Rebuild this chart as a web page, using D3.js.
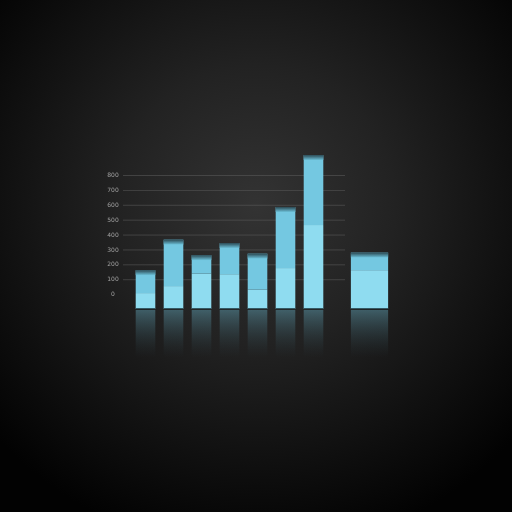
<!DOCTYPE html>
<html>
<head>
<meta charset="utf-8">
<script src="https://cdn.jsdelivr.net/npm/d3@7"></script>
<style>
  html, body { margin: 0; padding: 0; background: #000; }
  svg { display: block; }
</style>
</head>
<body>
<div id="chart"></div>
<script>
// data
const categories = ["A", "B", "C", "D", "E", "F", "G", "", "H"];
const lowerValues = [107, 154, 238, 234, 130, 275, 564, null, 261];
const upperValues = [154, 312, 124, 209, 242, 410, 470, null, 118];
const tickValues = [0, 100, 200, 300, 400, 500, 600, 700, 800];
const tickLabels = ["0", "100", "200", "300", "400", "500", "600", "700", "800"];
const wideCategory = "H";
const baseValue = -100;

const width = 512;
const height = 512;

const svg = d3.select("#chart")
  .append("svg")
  .attr("width", width)
  .attr("height", height);

const defs = svg.append("defs");

// background glow
const bg = defs.append("radialGradient")
  .attr("id", "bg")
  .attr("cx", "50%").attr("cy", "40%").attr("r", "68%");
bg.append("stop").attr("offset", "0%").attr("stop-color", "#333333");
bg.append("stop").attr("offset", "40%").attr("stop-color", "#222222");
bg.append("stop").attr("offset", "100%").attr("stop-color", "#020202");

const cap = defs.append("linearGradient")
  .attr("id", "cap").attr("x1", 0).attr("y1", 0).attr("x2", 0).attr("y2", 1);
cap.append("stop").attr("offset", "0%").attr("stop-color", "#2a4852");
cap.append("stop").attr("offset", "100%").attr("stop-color", "#6cc0d8");

const refl = defs.append("linearGradient")
  .attr("id", "refl").attr("x1", 0).attr("y1", 0).attr("x2", 0).attr("y2", 1);
refl.append("stop").attr("offset", "0%").attr("stop-color", "#4f7f8d").attr("stop-opacity", 0.65);
refl.append("stop").attr("offset", "100%").attr("stop-color", "#2a3a40").attr("stop-opacity", 0);

// plain pass-through filter, keeps the small labels grey (no colour fringes)
const flat = defs.append("filter").attr("id", "flat");
flat.append("feOffset").attr("dx", 0).attr("dy", 0);

svg.append("rect")
  .attr("width", width)
  .attr("height", height)
  .attr("fill", "url(#bg)");

// scales
const x = d3.scaleBand()
  .domain(categories)
  .range([131.5, 383.5])
  .paddingInner(0.3)
  .paddingOuter(0.15);

const y = d3.scaleLinear()
  .domain([baseValue, 800])
  .range([309, 175]);

// gridlines + tick labels
const grid = svg.append("g");
grid.selectAll("line")
  .data(tickValues.slice(1))
  .enter()
  .append("line")
  .attr("x1", 123)
  .attr("x2", 345)
  .attr("y1", d => y(d) + 0.5)
  .attr("y2", d => y(d) + 0.5)
  .attr("stroke", "#5e5e5e")
  .attr("stroke-width", 0.7)
  .attr("opacity", 0.75);

grid.append("g")
  .attr("filter", "url(#flat)")
  .selectAll("text")
  .data(tickValues)
  .enter()
  .append("text")
  .attr("x", 113)
  .attr("y", d => y(d))
  .attr("dy", "0.35em")
  .attr("text-anchor", "middle")
  .attr("fill", "#a0a0a0")
  .style("font-family", "DejaVu Sans, sans-serif")
  .style("font-size", "6px")
  .text((d, i) => tickLabels[i]);

// stacked data
const rows = categories.map((c, i) => ({ cat: c, lower: lowerValues[i], upper: upperValues[i] }))
  .filter(d => d.lower !== null);

const stack = d3.stack().keys(["lower", "upper"]);
const series = stack(rows);

function barX(cat) {
  const w = cat === wideCategory ? x.bandwidth() * 1.9 : x.bandwidth();
  return { x: x(cat) + x.bandwidth() / 2 - w / 2, w: w };
}

// reflections
svg.append("g")
  .selectAll("rect")
  .data(rows)
  .enter()
  .append("rect")
  .attr("x", d => barX(d.cat).x)
  .attr("width", d => barX(d.cat).w)
  .attr("y", y(baseValue) + 1)
  .attr("height", 48)
  .attr("fill", "url(#refl)");

const colors = ["#8fdcf0", "#74c8e1"];

const layers = svg.append("g")
  .selectAll("g")
  .data(series)
  .enter()
  .append("g")
  .attr("fill", (d, i) => colors[i]);

layers.selectAll("rect")
  .data(d => d)
  .enter()
  .append("rect")
  .attr("x", d => barX(d.data.cat).x)
  .attr("width", d => barX(d.data.cat).w)
  .attr("y", d => y(baseValue + d[1]))
  .attr("height", d => y(baseValue + d[0]) - y(baseValue + d[1]));

// dark caps on top
svg.append("g")
  .selectAll("rect")
  .data(series[1])
  .enter()
  .append("rect")
  .attr("x", d => barX(d.data.cat).x)
  .attr("width", d => barX(d.data.cat).w)
  .attr("y", d => y(baseValue + d[1]))
  .attr("height", 5)
  .attr("fill", "url(#cap)");

// thin dark line at bottom
svg.append("g")
  .selectAll("rect")
  .data(rows)
  .enter()
  .append("rect")
  .attr("x", d => barX(d.cat).x)
  .attr("width", d => barX(d.cat).w)
  .attr("y", y(baseValue) - 0.8)
  .attr("height", 1)
  .attr("fill", "#1f3a42");
</script>
</body>
</html>
